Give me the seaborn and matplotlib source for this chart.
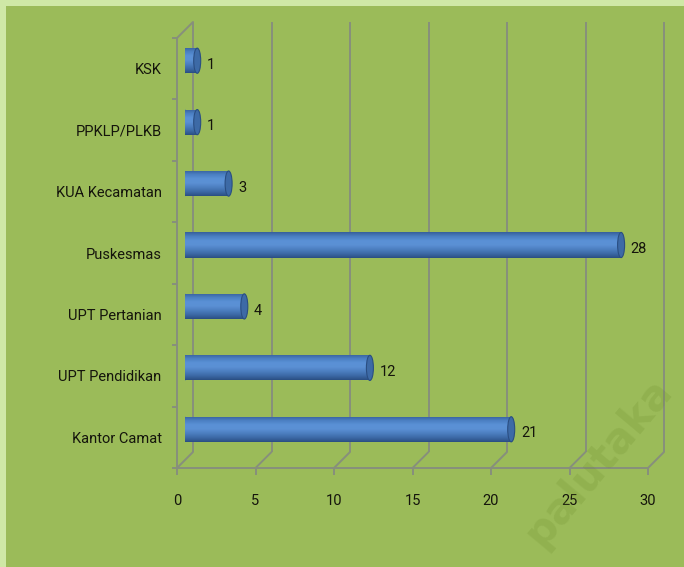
import numpy as np
import pandas as pd
import matplotlib
matplotlib.use('Agg')
import matplotlib.pyplot as plt
from matplotlib import font_manager
from matplotlib.patches import Rectangle, Ellipse, ConnectionPatch
from matplotlib.colors import LinearSegmentedColormap
import seaborn as sns

# data, listed top to bottom as in the chart
units = ['KSK', 'PPKLP/PLKB', 'KUA Kecamatan', 'Puskesmas',
         'UPT Pertanian', 'UPT Pendidikan', 'Kantor Camat']
counts = [1, 1, 3, 28, 4, 12, 21]
x_ticks = [0, 5, 10, 15, 20, 25, 30]

sns.set_theme(style='white')
names = {f.name for f in font_manager.fontManager.ttflist}
fams = [f for f in ['Roboto', 'DejaVu Sans'] if f in names]
plt.rcParams['font.family'] = fams
fs = 10.5 if fams[0] == 'Roboto' else 9.5

W, H = 684, 567
BG = '#9bbb59'
GRID = '#878f7c'
TXT = '#15150c'

fig = plt.figure(figsize=(W / 100, H / 100), dpi=100, facecolor='#cfe8a6')
fig.patches.append(Rectangle((6 / W, 0), 1, 1 - 6 / H, transform=fig.transFigure,
                             facecolor=BG, edgecolor='none', zorder=-10))


def box(dx, dy):
    # front plane at x 177..648, y 38..468 (pixels), depth shifts up-right
    return [(177 + dx) / W, (H - 468 + dy) / H, 471 / W, 430 / H]


back = fig.add_axes(box(16, 16), zorder=0)
front = fig.add_axes(box(0, 0), zorder=1)
mid = fig.add_axes(box(8, 8), zorder=2)

# back wall gridlines
for t in x_ticks:
    back.plot([t, t], [6.5, -0.5], color=GRID, lw=1.4, solid_capstyle='butt',
              clip_on=False)
back.axis('off')

# front axes: category labels, floor line, ticks
front.set_xticks(x_ticks)
front.set_xticklabels([str(t) for t in x_ticks])
front.set_yticks(range(len(units)))
front.set_yticklabels(units)
front.set_yticks(np.arange(-0.5, len(units), 1), minor=True)
for s in ['top', 'right']:
    front.spines[s].set_visible(False)
for s in ['left', 'bottom']:
    front.spines[s].set_color(GRID)
    front.spines[s].set_linewidth(1.4)
front.tick_params(axis='x', bottom=True, length=5, width=1.4, color=GRID,
                  pad=14, labelsize=fs, labelcolor=TXT)
front.tick_params(axis='y', which='major', left=False, length=0, pad=11,
                  labelsize=fs, labelcolor=TXT)
front.tick_params(axis='y', which='minor', left=True, length=3.5, width=1.4,
                  color=GRID)
front.grid(False)

# floor / wall connectors
for t in x_ticks:
    fig.add_artist(ConnectionPatch(xyA=(t, 6.5), coordsA=front.transData,
                                   xyB=(t, 6.5), coordsB=back.transData,
                                   color=GRID, lw=1.4))
fig.add_artist(ConnectionPatch(xyA=(0, -0.5), coordsA=front.transData,
                               xyB=(0, -0.5), coordsB=back.transData,
                               color=GRID, lw=1.4))

# bars
df = pd.DataFrame({'unit': units, 'count': counts})
sns.barplot(data=df, x='count', y='unit', order=units, orient='h', width=0.41,
            color='#4f81bd', saturation=1, ax=mid)

cyl = LinearSegmentedColormap.from_list(
    'cyl', ['#365f9a', '#4b7fc2', '#5a91d6', '#5b90d4', '#4c7ec0',
            '#3c69a6', '#2a4e82'])
grad = np.linspace(0, 1, 256).reshape(-1, 1)
cw = 7 / 15.7  # cap width in data units (about 7 px)

for i, (p, v) in enumerate(zip(list(mid.patches), counts)):
    x0, y0, h = p.get_x(), p.get_y(), p.get_height()
    p.set_width(v - cw / 2)
    p.set_edgecolor('none')
    mid.add_patch(Ellipse((0, y0 + h / 2), cw, h, facecolor='#4677b8',
                          edgecolor='none', zorder=1))
    im = mid.imshow(grad, cmap=cyl, aspect='auto', origin='upper',
                    extent=(x0, x0 + v - cw / 2, y0 + h, y0), zorder=3)
    im.set_clip_path(p)
    mid.add_patch(Ellipse((v - cw / 2, y0 + h / 2), cw, h, facecolor='#3d6aa6',
                          edgecolor='#2a4e82', lw=0.8, zorder=4))
    mid.annotate(str(v), (v, i), xytext=(4.5, -3), textcoords='offset points',
                 ha='left', va='center', fontsize=fs, color=TXT)

for ax in (back, front, mid):
    ax.set_xlim(0, 30)
    ax.set_ylim(6.5, -0.5)
    ax.patch.set_alpha(0)
mid.axis('off')

# faint watermark
fig.text(598 / W, 1 - 462 / H, 'palutaka', rotation=50, fontsize=30,
         fontweight='bold', color='#6a8a2a', alpha=0.2, ha='center',
         va='center', zorder=5, family='DejaVu Sans')

fig.savefig('out.png', dpi=100, facecolor=fig.get_facecolor())
